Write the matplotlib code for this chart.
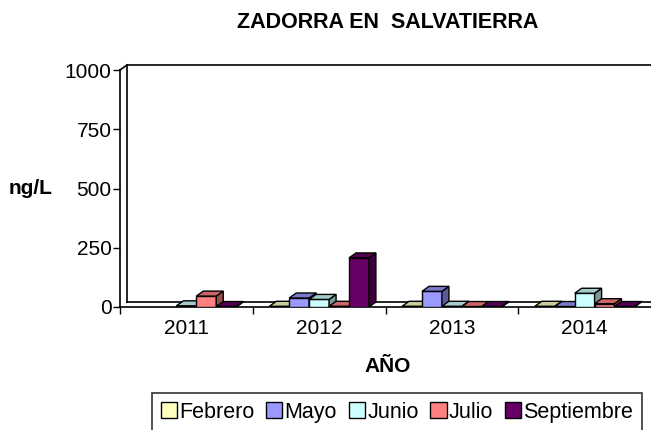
import numpy as np
import matplotlib.pyplot as plt
from matplotlib.patches import Polygon, Patch
from matplotlib.transforms import ScaledTranslation

plt.rcParams['font.family'] = ['Liberation Sans', 'DejaVu Sans']

years = ['2011', '2012', '2013', '2014']
months = ['Febrero', 'Mayo', 'Junio', 'Julio', 'Septiembre']
colors = ['#FFFFC0', '#9999FF', '#CCFFFF', '#FF8080', '#660066']

# ng/L per month and year (nan = no data)
febrero = [np.nan, 3, 3, 3]
mayo = [np.nan, 38, 66, 2]
junio = [5, 32, 3, 58]
julio = [46, 3, 2, 14]
septiembre = [2, 207, 2, 2]
series = [febrero, mayo, junio, julio, septiembre]


def shade(c, f):
    r, g, b = plt.matplotlib.colors.to_rgb(c)
    return (r * f, g * f, b * f)


fig = plt.figure(figsize=(6.51, 4.30), dpi=100)
ax = fig.add_axes([120 / 651, 123 / 430, 531 / 651, 237 / 430])
ax.set_xlim(-0.5, 3.5)
ax.set_ylim(0, 1000)

# depth of the pseudo 3D look, in pixels
dpx, dpy = 7, 5
depth = ax.transData + ScaledTranslation(dpx / 100, dpy / 100, fig.dpi_scale_trans)
p0 = ax.transData.transform((0, 0))
p1 = ax.transData.transform((1, 1000))
ddx = dpx / (p1[0] - p0[0])
ddy = dpy * 1000 / (p1[1] - p0[1])

# walls and floor
ax.plot([-0.5, -0.5, 3.6], [0, 1000, 1000], color='black', lw=1.2, transform=depth, clip_on=False)
ax.plot([-0.5, 3.6], [0, 0], color='black', lw=1.2, transform=depth, clip_on=False)
ax.plot([-0.5, -0.5 + ddx], [1000, 1000 + ddy], color='black', lw=1.2, clip_on=False)

w = 0.15
z = 3
for i in range(len(years)):
    for j, vals in enumerate(series):
        v = vals[i]
        if np.isnan(v):
            continue
        x0 = i + (j - 2.5) * w
        x1 = x0 + w
        c = colors[j]
        ax.bar(x0, v, width=w, align='edge', color=c, edgecolor='black', lw=1, zorder=z)
        side = Polygon([(x1, 0), (x1 + ddx, ddy), (x1 + ddx, v + ddy), (x1, v)],
                       closed=True, facecolor=shade(c, 0.6), edgecolor='black', lw=1, zorder=z)
        top = Polygon([(x0, v), (x1, v), (x1 + ddx, v + ddy), (x0 + ddx, v + ddy)],
                      closed=True, facecolor=shade(c, 0.8), edgecolor='black', lw=1, zorder=z)
        ax.add_patch(side)
        ax.add_patch(top)
        z += 1

for s in ['top', 'right']:
    ax.spines[s].set_visible(False)
ax.spines['left'].set_linewidth(1.2)
ax.spines['bottom'].set_linewidth(1.2)

ax.set_yticks([0, 250, 500, 750, 1000])
ax.tick_params(axis='y', labelsize=15, length=5, width=1, pad=1)
ax.set_xticks([-0.5, 0.5, 1.5, 2.5])
ax.set_xticklabels([])
ax.tick_params(axis='x', which='major', length=5, width=1)
ax.set_xticks(range(4), minor=True)
ax.set_xticklabels(years, minor=True)
ax.tick_params(axis='x', which='minor', length=0, labelsize=15, pad=9)

fig.text(388 / 651, 1 - 22 / 430, 'ZADORRA EN  SALVATIERRA', ha='center', va='center',
         fontsize=15.5, fontweight='bold')
fig.text(388 / 651, 1 - 366 / 430, 'AÑO', ha='center', va='center', fontsize=15, fontweight='bold')
fig.text(31 / 651, 1 - 188 / 430, 'ng/L', ha='center', va='center', fontsize=15, fontweight='bold')

handles = [Patch(facecolor=c, edgecolor='black', lw=1) for c in colors]
leg = fig.legend(handles, months, loc='upper center', bbox_to_anchor=(397 / 651, 1 - 393 / 430),
                 ncol=5, fontsize=15.5, frameon=True, fancybox=False, edgecolor='black',
                 handlelength=0.75, handleheight=0.75, handletextpad=0.1, columnspacing=0.55,
                 borderpad=0.4, borderaxespad=0)
leg.get_frame().set_linewidth(1.2)

fig.savefig('out.png', dpi=100)
